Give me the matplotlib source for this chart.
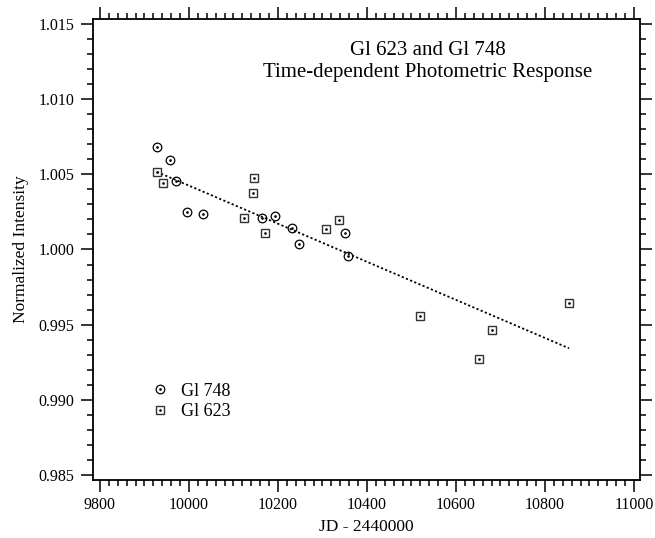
import matplotlib
matplotlib.use('Agg')
import matplotlib.pyplot as plt
from matplotlib.ticker import MultipleLocator

plt.rcParams['font.family'] = ['Liberation Serif', 'DejaVu Serif']

# Gl 748 (circles)
gl748_jd = [9927, 9957, 9971, 9996, 10032, 10165, 10193, 10231, 10247, 10350, 10358]
gl748_int = [1.00680, 1.00595, 1.00458, 1.00251, 1.00236, 1.00208, 1.00223, 1.00143,
             1.00037, 1.00108, 0.99957]

# Gl 623 (squares)
gl623_jd = [9929, 9941, 10145, 10144, 10124, 10170, 10308, 10336, 10520, 10681, 10652, 10854]
gl623_int = [1.00514, 1.00440, 1.00478, 1.00378, 1.00208, 1.00112, 1.00136, 1.00196,
             0.99558, 0.99467, 0.99270, 0.99642]

# linear trend drawn across the data
trend_jd = [9928, 10854]
trend_int = [1.00516, 0.99343]

fig = plt.figure(figsize=(6.55, 5.38), dpi=100)
ax = fig.add_axes([0.142, 0.1078, 0.8351, 0.8569])

ax.plot(trend_jd, trend_int, color='black', lw=1.3, linestyle=(0, (1.2, 1.3)))

c1, = ax.plot(gl748_jd, gl748_int, 'o', ms=6.2, mfc='none', mec='black', mew=0.9)
d1, = ax.plot(gl748_jd, gl748_int, '.', ms=1.8, color='black')
s1, = ax.plot(gl623_jd, gl623_int, 's', ms=6.2, mfc='none', mec='#333333', mew=1.0)
d2, = ax.plot(gl623_jd, gl623_int, '.', ms=1.8, color='black')

ax.set_xlim(9784.3, 11013.5)
ax.set_ylim(0.984667, 1.015333)

ax.xaxis.set_major_locator(MultipleLocator(200))
ax.xaxis.set_minor_locator(MultipleLocator(20))
ax.yaxis.set_major_locator(MultipleLocator(0.005))
ax.yaxis.set_minor_locator(MultipleLocator(0.001))
ax.yaxis.set_major_formatter(plt.FuncFormatter(lambda v, p: f'{v:.3f}'))

ax.tick_params(which='both', direction='out', top=True, right=True, width=1.1, labelsize=11.5)
ax.tick_params(which='major', length=8.5)
ax.tick_params(which='minor', length=4.3)
ax.tick_params(axis='y', which='major', pad=5)
ax.tick_params(axis='x', which='major', pad=4)
for sp in ax.spines.values():
    sp.set_linewidth(1.3)

ax.set_xlabel('JD - 2440000', fontsize=12.5, labelpad=4)
ax.set_ylabel('Normalized Intensity', fontsize=12.5, labelpad=7)

ax.text(0.612, 0.9078, 'Gl 623 and Gl 748\nTime-dependent Photometric Response',
        transform=ax.transAxes, ha='center', va='center', fontsize=15, linespacing=1.15)

ax.legend([(c1, d1), (s1, d2)], ['Gl 748', 'Gl 623'], loc='lower left',
          bbox_to_anchor=(0.089, 0.114), frameon=False, fontsize=13,
          handlelength=1.2, handletextpad=0.6, labelspacing=0.2, borderaxespad=0)

fig.savefig('out.png', dpi=100)
